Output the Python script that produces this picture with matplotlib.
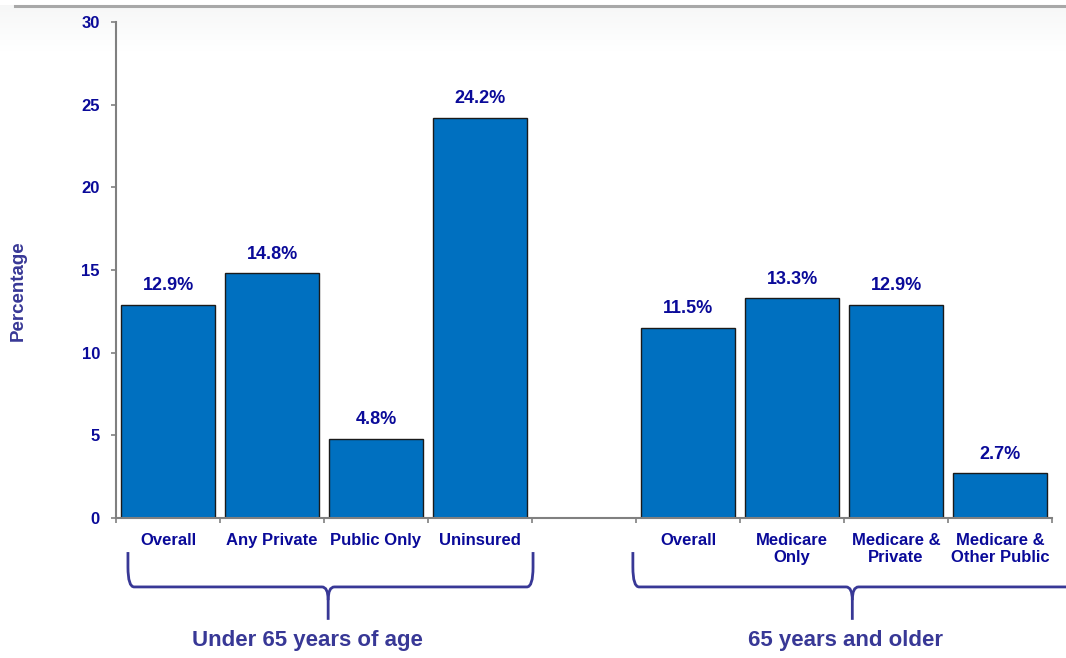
import matplotlib.pyplot as plt
import numpy as np
from matplotlib.path import Path
from matplotlib.patches import PathPatch
from matplotlib.transforms import blended_transform_factory

plt.rcParams['font.family'] = ['Liberation Sans', 'DejaVu Sans']

under65_labels = ['Overall', 'Any Private', 'Public Only', 'Uninsured']
under65_values = [12.9, 14.8, 4.8, 24.2]
over65_labels = ['Overall', 'Medicare\nOnly', 'Medicare &\nPrivate', 'Medicare &\nOther Public']
over65_values = [11.5, 13.3, 12.9, 2.7]
group_names = ['Under 65 years of age', '65 years and older']
y_ticks = [0, 5, 10, 15, 20, 25, 30]

navy = '#0a0a99'
brace_col = '#383896'
bar_col = '#0070c0'
axis_col = '#808080'

fig = plt.figure(figsize=(10.66, 6.58), dpi=100)

# light gradient band and rule at the top
bg = fig.add_axes([0, 0, 1, 1], zorder=-5)
bg.set_axis_off()
n = 200
fade = np.clip(np.linspace(0, 1, n) * 3.5, 0, 1)
base = np.array([0.965, 0.968, 0.968])
img = np.ones((n, 1, 3))
for i in range(n):
    img[i, 0] = base + (1 - base) * fade[i]
bg.imshow(img, extent=[0, 1, 0.75, 0.991], aspect='auto')
bg.plot([15 / 1066, 1], [0.991, 0.991], color='#a8a8a8', lw=2.2)
bg.set_xlim(0, 1)
bg.set_ylim(0, 1)

ax = fig.add_axes([116 / 1066, 140 / 658, 936 / 1066, 496 / 658])
ax.patch.set_alpha(0)

x1 = np.arange(len(under65_values))
x2 = np.arange(len(over65_values)) + len(under65_values) + 1
ax.bar(x1, under65_values, width=0.91, color=bar_col, edgecolor='#1a1a1a', linewidth=1)
ax.bar(x2, over65_values, width=0.91, color=bar_col, edgecolor='#1a1a1a', linewidth=1)

for x, v in list(zip(x1, under65_values)) + list(zip(x2, over65_values)):
    ax.annotate(f'{v}%', (x, v), xytext=(0, 7.5), textcoords='offset points',
                ha='center', va='bottom', fontsize=13, fontweight='bold', color=navy)

ax.set_xlim(-0.5, 8.5)
ax.set_ylim(0, 30)
ax.set_yticks(y_ticks)
ax.tick_params(axis='y', colors=axis_col, labelcolor=navy, labelsize=12,
               length=3.6, width=1.2, pad=8)
for lab in ax.get_yticklabels():
    lab.set_fontweight('bold')

ax.set_xticks(list(x1) + list(x2))
ax.set_xticklabels(under65_labels + over65_labels, fontsize=12, fontweight='bold',
                   color=navy, va='top', linespacing=1.2)
ax.tick_params(axis='x', which='major', length=0, pad=10.5)
ax.set_xticks(np.arange(-0.5, 9, 1), minor=True)
ax.tick_params(axis='x', which='minor', length=3.6, width=1.2, colors=axis_col)

for s in ['top', 'right']:
    ax.spines[s].set_visible(False)
for s in ['left', 'bottom']:
    ax.spines[s].set_color(axis_col)
    ax.spines[s].set_linewidth(1.5)

fig.text(18 / 1066, (658 - 291) / 658, 'Percentage', rotation=90, ha='center', va='center',
         fontsize=13.5, fontweight='bold', color=brace_col)

# braces under groups
tr = blended_transform_factory(ax.transData, fig.transFigure)


def brace(x0, xm, x1_, ytop=0.161, ymid=0.108, ytip=0.058):
    r = 0.06
    verts = [(x0, ytop), (x0, ymid + 0.03), (x0, ymid), (x0 + r, ymid),
             (xm - r, ymid), (xm, ymid), (xm, ymid - 0.02), (xm, ytip)]
    codes = [Path.MOVETO, Path.LINETO, Path.CURVE3, Path.CURVE3,
             Path.LINETO, Path.CURVE3, Path.CURVE3, Path.LINETO]
    verts2 = [(x1_, ytop), (x1_, ymid + 0.03), (x1_, ymid), (x1_ - r, ymid),
              (xm + r, ymid), (xm, ymid), (xm, ymid - 0.02)]
    codes2 = [Path.MOVETO, Path.LINETO, Path.CURVE3, Path.CURVE3,
              Path.LINETO, Path.CURVE3, Path.CURVE3]
    for v, c in [(verts, codes), (verts2, codes2)]:
        p = PathPatch(Path(v, c), transform=tr, fill=False, edgecolor=brace_col,
                      lw=2, clip_on=False)
        fig.add_artist(p)


brace(-0.385, 1.54, 3.51)
brace(4.47, 6.58, 9.2)

fig.text(307 / 1066, 0.027, group_names[0], ha='center', va='center',
         fontsize=16, fontweight='bold', color=brace_col)
fig.text(845 / 1066, 0.027, group_names[1], ha='center', va='center',
         fontsize=16, fontweight='bold', color=brace_col)

fig.savefig('out.png', dpi=100)
